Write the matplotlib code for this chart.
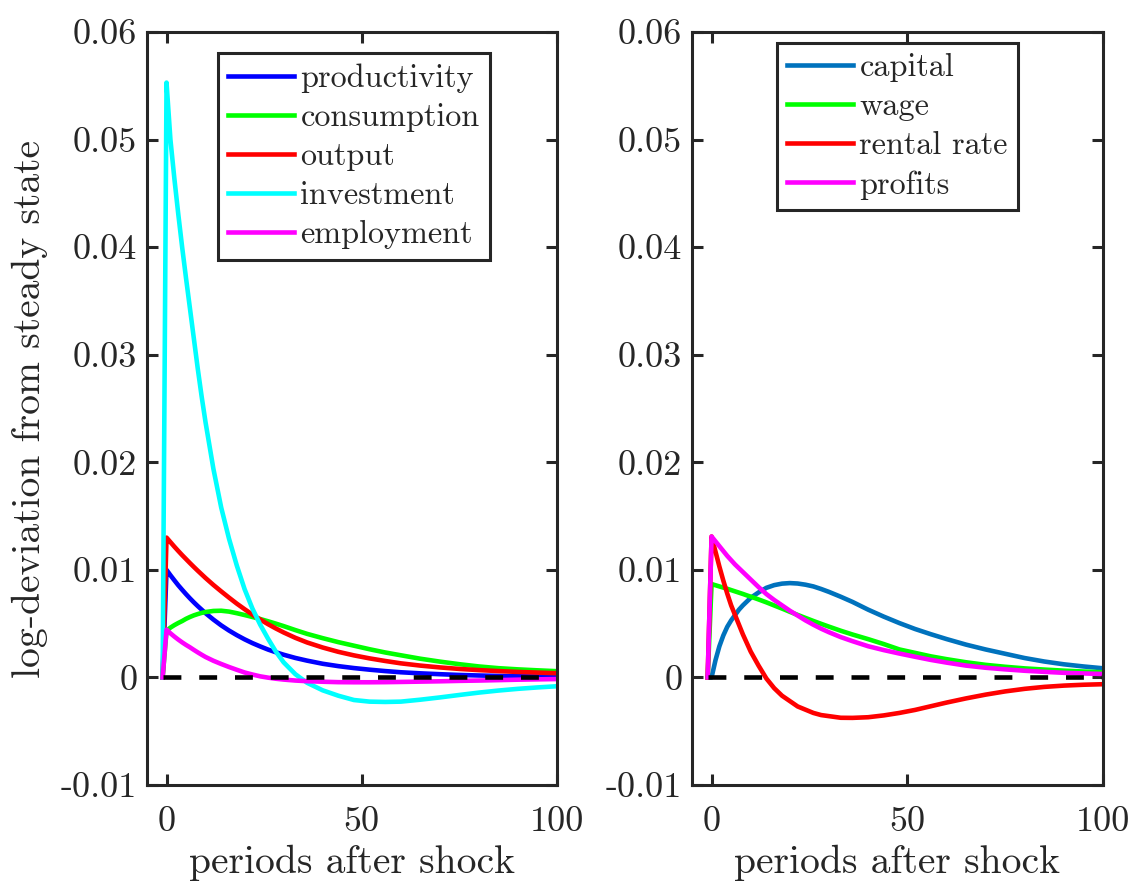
import matplotlib
matplotlib.use("Agg")
import matplotlib.pyplot as plt
import numpy as np

# ---------------- data ----------------
periods = [-1, 0, 1, 2, 3, 4, 5, 6, 7, 8, 9, 10, 12, 14, 16, 18, 20, 22, 24, 26,
           28, 30, 33, 36, 40, 44, 48, 52, 56, 60, 65, 70, 75, 80, 85, 90, 95, 100]

productivity = [0, 0.0100, 0.0095, 0.00903, 0.00857, 0.00815, 0.00774, 0.00735,
                0.00698, 0.00663, 0.0063, 0.00597, 0.00538, 0.00484, 0.00436,
                0.00393, 0.00354, 0.00319, 0.00288, 0.00259, 0.00234, 0.00211,
                0.00181, 0.00156, 0.00127, 0.00105, 0.00087, 0.00072, 0.00059,
                0.00048, 0.00038, 0.0003, 0.00023, 0.00018, 0.00014, 0.00011,
                0.00009, 0.00007]
consumption = [0, 0.00435, 0.00463, 0.00486, 0.00506, 0.00524, 0.00545, 0.00562,
               0.00577, 0.00589, 0.0060, 0.00608, 0.00618, 0.0062, 0.00612,
               0.00597, 0.0058, 0.00562, 0.00543, 0.00522, 0.0050, 0.00477,
               0.0044, 0.00405, 0.00365, 0.00328, 0.00295, 0.00262, 0.00232,
               0.00206, 0.00174, 0.00147, 0.00123, 0.00102, 0.00086, 0.00075,
               0.00066, 0.00058]
output = [0, 0.0130, 0.01258, 0.01216, 0.01176, 0.01137, 0.0110, 0.01063,
          0.01027, 0.00992, 0.00958, 0.00924, 0.0086, 0.0080, 0.00742, 0.00686,
          0.00634, 0.00584, 0.00538, 0.00495, 0.00455, 0.00418, 0.00368,
          0.00325, 0.00278, 0.00238, 0.00205, 0.00177, 0.00153, 0.00131,
          0.0011, 0.00093, 0.00079, 0.00068, 0.00059, 0.00051, 0.00045, 0.00039]
investment = [0, 0.0553, 0.0500, 0.0464, 0.0431, 0.0400, 0.0371, 0.0343, 0.0315,
              0.0287, 0.0261, 0.0237, 0.0194, 0.0158, 0.0129, 0.0104, 0.0082,
              0.0064, 0.0049, 0.0036, 0.0024, 0.0014, 0.0003, -0.0005, -0.0012,
              -0.0017, -0.0021, -0.00225, -0.00228, -0.00225, -0.00207,
              -0.00186, -0.00163, -0.00141, -0.00122, -0.00106, -0.00093,
              -0.00082]
employment = [0, 0.00444, 0.0041, 0.0038, 0.00352, 0.00326, 0.00302, 0.0028,
              0.00256, 0.00233, 0.00211, 0.0019, 0.00155, 0.00125, 0.00097,
              0.00071, 0.00046, 0.00027, 0.0001, -0.00002, -0.00012, -0.0002,
              -0.00029, -0.00035, -0.0004, -0.00044, -0.00045, -0.00045,
              -0.00044, -0.00042, -0.00039, -0.00036, -0.00032, -0.00029,
              -0.00025, -0.00021, -0.00018, -0.00015]

capital = [0, 0, 0.0016, 0.0029, 0.0039, 0.0047, 0.0053, 0.0058, 0.0063, 0.0067,
           0.00705, 0.0074, 0.0079, 0.00833, 0.00858, 0.00872, 0.00877, 0.00873,
           0.00862, 0.00846, 0.00822, 0.00795, 0.0075, 0.00702, 0.0063,
           0.00565, 0.00505, 0.0045, 0.00402, 0.00357, 0.00305, 0.0026, 0.0022,
           0.0018, 0.00148, 0.00122, 0.00102, 0.00085]
wage = [0, 0.00868, 0.00857, 0.00846, 0.00835, 0.00824, 0.00812, 0.0080,
        0.00788, 0.00776, 0.00763, 0.00751, 0.00725, 0.00698, 0.00669, 0.0064,
        0.0061, 0.00581, 0.00553, 0.00525, 0.00498, 0.00472, 0.00434, 0.00399,
        0.00356, 0.0031, 0.0026, 0.00228, 0.00196, 0.0017, 0.00141, 0.00117,
        0.00099, 0.00084, 0.00073, 0.00063, 0.00055, 0.00048]
rental_rate = [0, 0.0131, 0.0117, 0.0103, 0.0090, 0.0078, 0.0067, 0.0058,
               0.0049, 0.0040, 0.0032, 0.0024, 0.0011, -0.0001, -0.0010,
               -0.0017, -0.0022, -0.0027, -0.0030, -0.0033, -0.0035, -0.0036,
               -0.00375, -0.00376, -0.0037, -0.00353, -0.0033, -0.00302,
               -0.00268, -0.00234, -0.00195, -0.0016, -0.0013, -0.00106,
               -0.00088, -0.00076, -0.00068, -0.00063]
profits = [0, 0.0131, 0.01265, 0.0122, 0.01175, 0.0113, 0.0109, 0.0105,
           0.01015, 0.0098, 0.00945, 0.0091, 0.0084, 0.00775, 0.0072, 0.0067,
           0.0062, 0.00575, 0.0053, 0.0049, 0.00453, 0.0042, 0.00375, 0.00337,
           0.0029, 0.00254, 0.00222, 0.00192, 0.00163, 0.00138, 0.0011, 0.0009,
           0.00075, 0.00062, 0.00052, 0.00043, 0.00037, 0.00032]

left_labels = ["productivity", "consumption", "output", "investment", "employment"]
right_labels = ["capital", "wage", "rental rate", "profits"]
yticks = [-0.01, 0, 0.01, 0.02, 0.03, 0.04, 0.05, 0.06]
yticklabels = ["-0.01", "0", "0.01", "0.02", "0.03", "0.04", "0.05", "0.06"]
xticks = [0, 50, 100]
xticklabels = ["0", "50", "100"]

# ---------------- style ----------------
plt.rcParams["font.family"] = ["cmr10", "DejaVu Serif"]
plt.rcParams["axes.unicode_minus"] = False
AX = "#262626"
LW = 3.3
TICK_FS = 26
LABEL_FS = 28.5
LEG_FS = 23.2

fig = plt.figure(figsize=(11.33, 8.84), dpi=100)
ax1 = fig.add_axes([147 / 1133, 99 / 884, 410 / 1133, 753 / 884])
ax2 = fig.add_axes([692 / 1133, 99 / 884, 411 / 1133, 753 / 884])

x = np.array(periods)
left_series = [productivity, consumption, output, investment, employment]
left_colors = ["#0000ff", "#00ff00", "#ff0000", "#00ffff", "#ff00ff"]
right_series = [capital, wage, rental_rate, profits]
right_colors = ["#0072bd", "#00ff00", "#ff0000", "#ff00ff"]


def style(ax):
    ax.set_xlim(-5, 100)
    ax.set_ylim(-0.01, 0.06)
    ax.set_xticks(xticks)
    ax.set_xticklabels(xticklabels)
    ax.set_yticks(yticks)
    ax.set_yticklabels(yticklabels)
    ax.tick_params(direction="in", length=8, width=2.2, colors=AX,
                   labelsize=TICK_FS, top=True, right=True)
    ax.tick_params(axis="y", pad=7)
    ax.tick_params(axis="x", pad=15.5)
    for s in ax.spines.values():
        s.set_linewidth(2.2)
        s.set_color(AX)
    ax.set_xlabel("periods after shock", fontsize=LABEL_FS, color=AX,
                  labelpad=5)


def draw(ax, series, colors, labels, anchor):
    for ys, c, lab in zip(series, colors, labels):
        ax.plot(x, ys, color=c, lw=LW, label=lab, solid_joinstyle="round")
    ax.plot(x[[0, -1]], [0, 0], color="black", lw=LW, dashes=(3.9, 3.9))
    leg = ax.legend(loc="upper left", bbox_to_anchor=anchor, borderaxespad=0,
                    fontsize=LEG_FS, handlelength=2.05, handletextpad=0.2,
                    borderpad=0.32, labelspacing=0.31, frameon=True,
                    fancybox=False, framealpha=1)
    leg.get_frame().set_edgecolor(AX)
    leg.get_frame().set_linewidth(2.2)
    for t in leg.get_texts():
        t.set_color(AX)
    style(ax)


draw(ax1, left_series, left_colors, left_labels, (0.1724, 0.9717))
draw(ax2, right_series, right_colors, right_labels, (0.206, 0.9858))
ax1.set_ylabel("log-deviation from steady state", fontsize=LABEL_FS,
               color=AX, labelpad=9)

fig.savefig("out.png", dpi=100)
